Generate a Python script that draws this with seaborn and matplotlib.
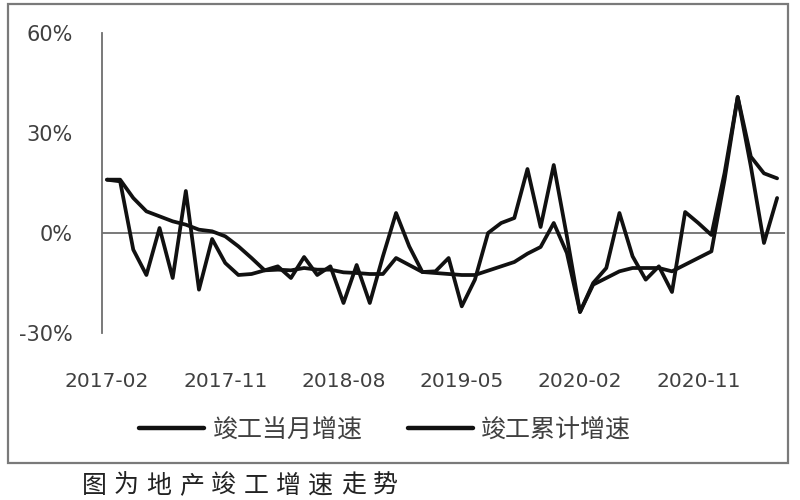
import numpy as np
import pandas as pd
import matplotlib
matplotlib.use("Agg")
import matplotlib.pyplot as plt
import seaborn as sns
from matplotlib.patches import Rectangle
from matplotlib.lines import Line2D

# months 2017-02 .. 2021-05 (category axis)
months = list(pd.date_range("2017-02-01", periods=52, freq="MS").strftime("%Y-%m"))

# completion growth, %
monthly = [16, 15.5, -5, -12.6, 1.5, -13.5, 12.6, -17, -1.8, -9,
           -12.6, -12.3, -11.2, -10, -13.5, -7.2, -12.6, -10, -21, -9.6,
           -21, -7, 6, -4, -11.7, -11.5, -7.5, -22, -14, 0,
           3, 4.5, 19.2, 1.8, 20.4, -1, -23.7, -15, -10.5, 6,
           -7, -14, -10, -17.7, 6.3, 3, -0.6, 18, 40.8, 20,
           -3, 10.5]
cumulative = [16, 16, 10.5, 6.5, 5, 3.5, 2.5, 1, 0.5, -1,
              -4, -7.5, -11.2, -11, -11.2, -10.5, -11, -11, -11.8, -12,
              -12.3, -12.3, -7.5, -9.6, -11.7, -12, -12.3, -12.6, -12.6, -11.3,
              -10, -8.7, -6.2, -4.2, 3, -6, -23.7, -15.5, -13.5, -11.5,
              -10.5, -10.5, -10.5, -11.5, -9.5, -7.5, -5.5, 16, 40.8, 22.9,
              17.9, 16.4]
series_names = ["竣工当月增速", "竣工累计增速"]
tick_labels = ["2017-02", "2017-11", "2018-08", "2019-05", "2020-02", "2020-11"]
y_ticks = [-0.30, 0, 0.30, 0.60]
caption = "图为地产竣工增速走势"

df = pd.DataFrame({
    "idx": list(range(len(months))) * 2,
    "value": np.array(monthly + cumulative) / 100,
    "series": [series_names[0]] * len(months) + [series_names[1]] * len(months),
})

sns.set_theme(style="white")
plt.rcParams["font.family"] = ["DejaVu Sans", "Noto Sans CJK SC"]

fig = plt.figure(figsize=(8, 5), dpi=100)
ax = fig.add_axes([102 / 800, 1 - 333 / 500, (785 - 102) / 800, 300 / 500])

sns.lineplot(data=df, x="idx", y="value", hue="series",
             palette=["#111111", "#111111"], linewidth=2.7, legend=False, ax=ax)
for ln in ax.lines:
    ln.set_solid_joinstyle("round")
    ln.set_solid_capstyle("round")

ax.axhline(0, color="#6e6e6e", lw=1.3, zorder=0)
ax.set_ylim(-0.30, 0.60)
ax.set_xlim(-0.38, 51.6)

ax.set_yticks(y_ticks)
ax.set_yticklabels([f"{int(round(v * 100))}%" for v in y_ticks])
ax.set_xticks([months.index(t) for t in tick_labels])
ax.set_xticklabels(tick_labels)
ax.tick_params(axis="y", length=0, pad=21, labelsize=15, labelcolor="#404040")
ax.tick_params(axis="x", length=0, pad=28, labelsize=14.5, labelcolor="#404040")
ax.set_xlabel("")
ax.set_ylabel("")

for s in ["top", "right", "bottom"]:
    ax.spines[s].set_visible(False)
ax.spines["left"].set_color("#6e6e6e")
ax.spines["left"].set_linewidth(1.3)

# outer frame
fig.patches.append(Rectangle((8 / 800, 1 - 463 / 500), 780 / 800, 459 / 500,
                             transform=fig.transFigure, fill=False,
                             edgecolor="#7a7a7a", lw=1.6))

handles = [Line2D([], [], color="#111111", lw=3.2) for _ in series_names]
leg = fig.legend(handles, series_names, loc="center", ncol=2,
                 bbox_to_anchor=(385 / 800, 1 - 430 / 500), frameon=False,
                 handlelength=2.6, handletextpad=0.35, columnspacing=1.8,
                 prop={"family": ["Noto Sans CJK SC", "DejaVu Sans"], "size": 18})
for t in leg.get_texts():
    t.set_color("#404040")

# caption below the frame, letter-spaced
for i, ch in enumerate(caption):
    fig.text((94 + 32.4 * i) / 800, 1 - 486 / 500, ch,
             ha="center", va="center", fontsize=18, color="#222222",
             family=["Noto Sans CJK SC", "DejaVu Sans"])

fig.savefig("out.png", dpi=100)
